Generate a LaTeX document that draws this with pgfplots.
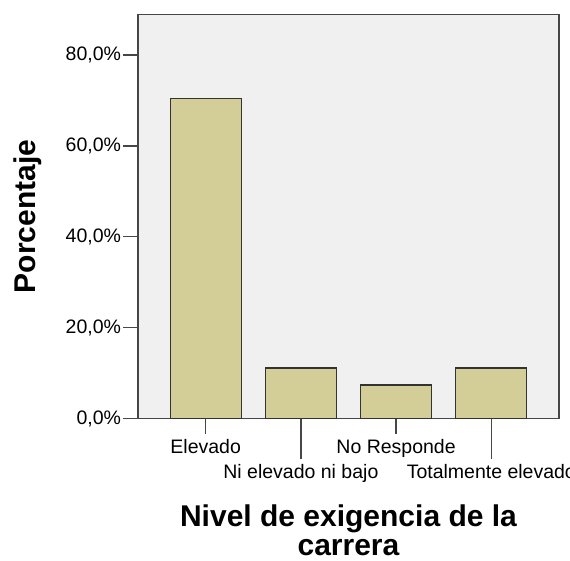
\documentclass[border=0pt]{standalone}
\usepackage{fontspec}
\setmainfont{Liberation Sans}
\usepackage{pgfplots}
\pgfplotsset{compat=1.18}
\definecolor{bgc}{RGB}{240,240,240}
\definecolor{barc}{RGB}{211,206,151}
\definecolor{axc}{RGB}{70,70,70}
\begin{document}
\begin{tikzpicture}
\useasboundingbox (-138pt,-141.5pt) rectangle (432pt,418.5pt);
\begin{axis}[
  at={(0,0)}, anchor=south west,
  scale only axis, width=421pt, height=404pt,
  xmin=-0.711, xmax=3.711, ymin=0, ymax=88.9,
  axis background/.style={fill=bgc},
  axis line style={draw=axc, line width=1.4pt},
  tick align=outside, major tick length=15pt,
  xtick pos=bottom, ytick pos=left,
  tick style={draw=axc, line width=1.4pt},
  xtick={0,2}, xticklabels={Elevado, No Responde},
  extra x ticks={1,3}, extra x tick labels={Ni elevado ni bajo, Totalmente elevado},
  extra x tick style={major tick length=40pt},
  xticklabel style={yshift=-2pt},
  ytick={0,20,40,60,80}, yticklabels={{0,0\%},{20,0\%},{40,0\%},{60,0\%},{80,0\%}},
  yticklabel style={xshift=1.5pt},
  ticklabel style={font=\fontsize{19.5}{22}\selectfont, text=black},
  ylabel={Porcentaje}, xlabel={Nivel de exigencia de la\\carrera},
  label style={font=\bfseries\fontsize{30}{29}\selectfont},
  ylabel style={at={(axis description cs:-0.262,0.5)}, anchor=center},
  xlabel style={at={(axis description cs:0.5,-0.277)}, anchor=center, align=center},
]
\addplot[ybar, bar width=71pt, bar shift=0pt, fill=barc, draw=black!80, line width=1.3pt] coordinates {(0,70.4) (1,11.1) (2,7.4) (3,11.1)};
\end{axis}
\end{tikzpicture}
\end{document}
